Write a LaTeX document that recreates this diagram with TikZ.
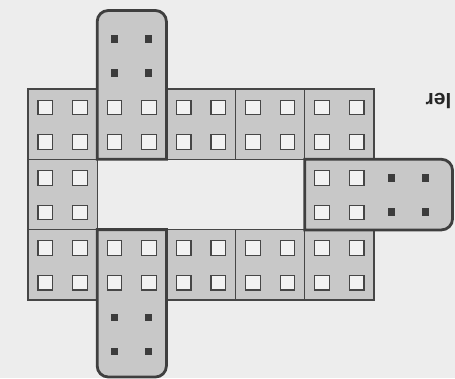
\documentclass[tikz,border=0pt]{standalone}
\usepackage{fontspec}
\setmainfont{Liberation Sans}
\definecolor{bg}{RGB}{237,237,237}
\definecolor{cellfill}{RGB}{200,200,200}
\definecolor{edge}{RGB}{70,70,70}
\definecolor{holefill}{RGB}{242,242,242}
\definecolor{dotfill}{RGB}{60,60,60}
\tikzset{
  cellbox/.style={fill=cellfill, draw=edge, line width=1.3pt},
  tabbox/.style={fill=cellfill, draw=edge!90!black, line width=2.8pt},
  hole/.style={fill=holefill, draw=edge, line width=1.1pt},
  dot/.style={fill=dotfill, draw=none},
}
\newcommand{\myholes}[2]{% center x, center y
  \foreach \dx in {-17.3,17.3}{\foreach \dy in {-17.3,17.3}{
    \draw[hole] ({#1+\dx-7.3},{#2+\dy-7.3}) rectangle ({#1+\dx+7.3},{#2+\dy+7.3});}}}
\newcommand{\mydots}[2]{%
  \foreach \dx in {-17,17}{\foreach \dy in {-17,17}{
    \fill[dot] ({#1+\dx-3.6},{#2+\dy-3.6}) rectangle ({#1+\dx+3.6},{#2+\dy+3.6});}}}
\begin{document}
\begin{tikzpicture}[x=1pt,y=-1pt]
\fill[bg] (0,0) rectangle (455,378);
\useasboundingbox (0,0) rectangle (455,378);
% regular cells
\foreach \cx/\cy in {28/89,166.4/89,235.6/89,304.8/89,28/159.3,28/229.6,166.4/229.6,235.6/229.6,304.8/229.6}{
  \draw[cellbox] (\cx,\cy) rectangle ({\cx+69.2},{\cy+70.3});
}
% tabs
\draw[tabbox] (97.2,159.3) [rounded corners=11pt] -- (97.2,10.5) -- (166.4,10.5) [sharp corners] -- (166.4,159.3) -- cycle;
\draw[tabbox] (97.2,229.6) [rounded corners=11pt] -- (97.2,377) -- (166.4,377) [sharp corners] -- (166.4,229.6) -- cycle;
\draw[tabbox] (304.8,159.3) [rounded corners=11pt] -- (452.5,159.3) -- (452.5,229.9) [sharp corners] -- (304.8,229.9) -- cycle;
% holes in cells
\foreach \cx/\cy in {28/89,97.2/89,166.4/89,235.6/89,304.8/89,28/159.3,304.8/159.3,28/229.6,97.2/229.6,166.4/229.6,235.6/229.6,304.8/229.6}{
  \myholes{\cx+34.6}{\cy+35.8}
}
% dark dots in tab ends
\mydots{131.8}{56}
\mydots{131.8}{334.5}
\mydots{408.5}{195}
% partial label
\node[rotate=180, font=\bfseries\fontsize{21}{21}\selectfont, text=black!85, inner sep=0pt] (lbl) at (438.5,101) {ler};
\end{tikzpicture}
\end{document}
